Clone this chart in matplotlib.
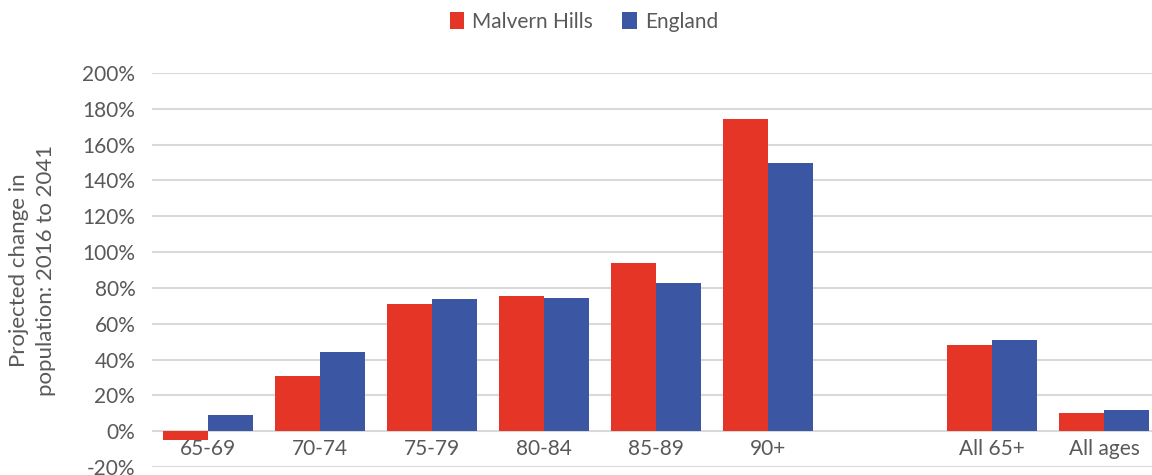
import numpy as np
import matplotlib.pyplot as plt

# age groups (blank slot between 90+ and All 65+)
categories = ['65-69', '70-74', '75-79', '80-84', '85-89', '90+', '', 'All 65+', 'All ages']
malvern = [-5, 31, 71, 75.5, 94, 174.5, np.nan, 48, 10.3]
england = [9, 44, 74, 74.5, 83, 149.5, np.nan, 51, 12]
yticks = list(range(-20, 201, 20))

red = '#E43526'
blue = '#3B57A3'
grey_text = '#595959'

plt.rcParams['font.family'] = ['Lato', 'DejaVu Sans']

fig = plt.figure(figsize=(11.52, 4.75), dpi=100)
# axes runs a bit past the right edge like the original
ax = fig.add_axes([152 / 1152, 8 / 475, 1008 / 1152, 394 / 475])

x = np.arange(len(categories))
w = 0.4
ax.bar(x - w / 2, malvern, w, color=red, label='Malvern Hills', zorder=3)
ax.bar(x + w / 2, england, w, color=blue, label='England', zorder=3)

ax.set_xlim(-0.5, len(categories) - 0.5)
ax.set_ylim(-20, 200)
ax.set_yticks(yticks)
ax.set_yticklabels([f'{v}%' for v in yticks])
ax.yaxis.grid(True, color='#D9D9D9', linewidth=1.5, zorder=0)
ax.set_axisbelow(True)
for s in ax.spines.values():
    s.set_visible(False)

ax.tick_params(axis='y', length=0, pad=12, labelsize=15, labelcolor=grey_text)
ax.set_xticks(x)
ax.set_xticklabels(categories)
ax.tick_params(axis='x', length=0, pad=-20, labelsize=15, labelcolor=grey_text)

ax.set_ylabel('Projected change in\npopulation: 2016 to 2041', fontsize=16,
              color=grey_text, labelpad=19, linespacing=1.45)

fig.legend(loc='upper center', bbox_to_anchor=(0.507, 1.015), ncol=2, frameon=False,
           fontsize=15, handlelength=0.7, handleheight=0.9, handletextpad=0.4,
           columnspacing=1.4, labelcolor=grey_text)

fig.savefig('out.png', dpi=100)
